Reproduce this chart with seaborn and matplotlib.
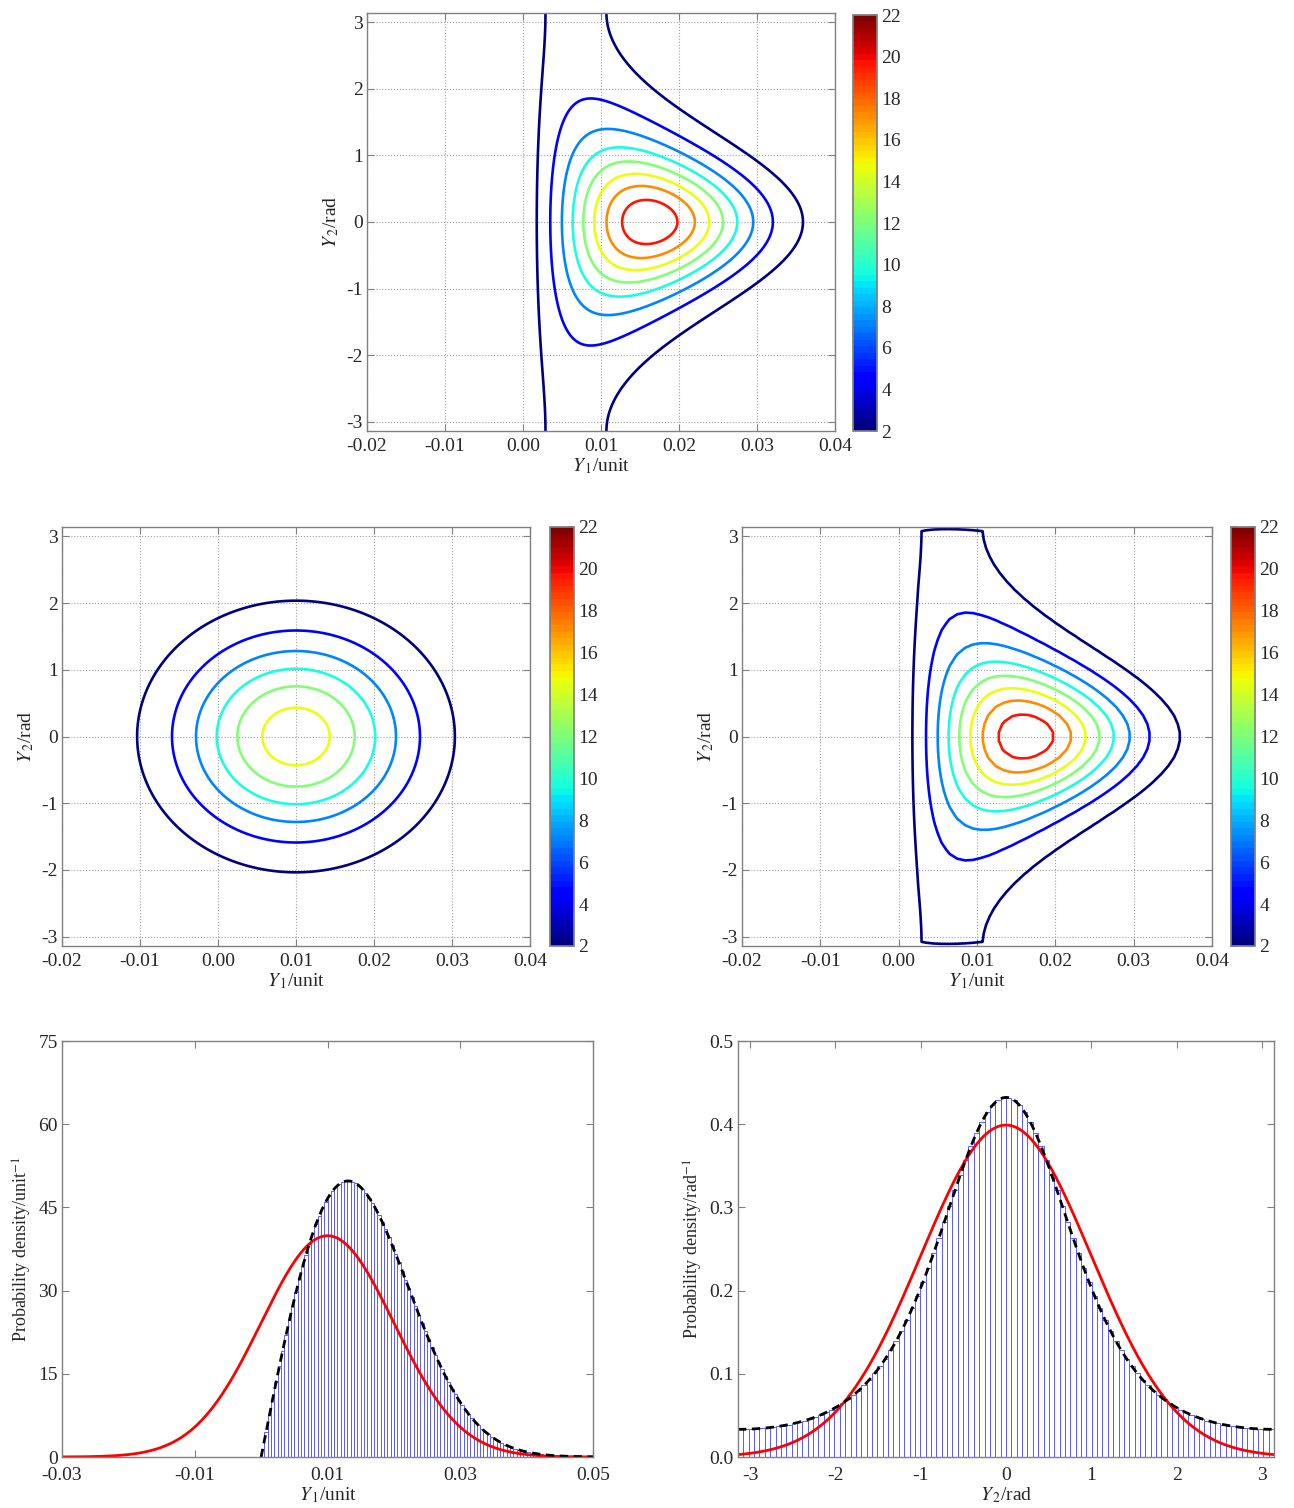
import math
import numpy as np
import pandas as pd
import matplotlib
matplotlib.use('Agg')
import matplotlib.pyplot as plt
import matplotlib.colors as mcolors
import seaborn as sns

# Source point in the plane: Gaussian with this mean offset and spread
# (read off the marginals: red peaks 39.9 and 0.399, black peaks ~49.8 and ~0.43)
src_mean = 0.01
src_std = 0.01
y2_mean = 0.0
y2_std = 1.0

contour_levels = [2.0, 4.5, 7.0, 9.5, 12.0, 14.5, 17.0, 19.5]
cbar_ticks = [2, 4, 6, 8, 10, 12, 14, 16, 18, 20, 22]
cbar_range = (2, 22)

y1_ticks_contour = [-0.02, -0.01, 0.00, 0.01, 0.02, 0.03, 0.04]
y2_ticks = [-3, -2, -1, 0, 1, 2, 3]
y1_ticks_hist = [-0.03, -0.01, 0.01, 0.03, 0.05]
pdf1_ticks = [0, 15, 30, 45, 60, 75]
pdf2_ticks = [0.0, 0.1, 0.2, 0.3, 0.4, 0.5]

hist1_bins = 100     # over [0, 0.05]
hist2_bins = 100     # over [-pi, pi]
mc_y1_bins = 50      # 2-D histogram grid for the sampled density
mc_y2_bins = 50

sns.set_theme(style='white')
plt.rcParams['font.family'] = ['Liberation Serif', 'DejaVu Serif']
plt.rcParams['mathtext.fontset'] = 'stix'
plt.rcParams['axes.unicode_minus'] = False
plt.rcParams['xtick.direction'] = 'in'
plt.rcParams['ytick.direction'] = 'in'
plt.rcParams['font.size'] = 14

AX_GRAY = '#808080'
TICK_SIZE = 14
cmap = plt.get_cmap('jet', 64)
norm = mcolors.Normalize(vmin=cbar_range[0], vmax=cbar_range[1])


def polar_density(r, t):
    r = np.asarray(r, dtype=float)
    d = r / (2 * np.pi * src_std ** 2) * np.exp(
        -(r ** 2 - 2 * r * src_mean * np.cos(t) + src_mean ** 2) / (2 * src_std ** 2))
    return np.where(r > 0, d, 0.0)


def gauss(x, m, s):
    return np.exp(-0.5 * ((x - m) / s) ** 2) / (s * np.sqrt(2 * np.pi))


def rice_pdf(r):
    r = np.asarray(r, dtype=float)
    v = r / src_std ** 2 * np.exp(-(r ** 2 + src_mean ** 2) / (2 * src_std ** 2)) \
        * np.i0(r * src_mean / src_std ** 2)
    return np.where(r >= 0, v, 0.0)


_erf = np.frompyfunc(math.erf, 1, 1)


def angle_pdf(t):
    k = src_mean / src_std
    a = k * np.cos(t)
    Phi = 0.5 * (1 + _erf(a / np.sqrt(2)).astype(float))
    phi = np.exp(-a ** 2 / 2) / np.sqrt(2 * np.pi)
    return np.exp(-k ** 2 / 2) / (2 * np.pi) * (1 + a * Phi / phi)


W, H = 1294, 1508
fig = plt.figure(figsize=(W / 100, H / 100), dpi=100)


def px_axes(left, top, right, bottom):
    return fig.add_axes([left / W, (H - bottom) / H, (right - left) / W, (bottom - top) / H])


def style_axes(ax, grid):
    for sp in ax.spines.values():
        sp.set_color(AX_GRAY)
        sp.set_linewidth(1.0)
    ax.tick_params(axis='both', which='both', direction='in', length=5, width=0.8,
                   color=AX_GRAY, top=True, right=True, bottom=True, left=True,
                   labelsize=TICK_SIZE)
    ax.tick_params(axis='x', pad=5)
    ax.tick_params(axis='y', pad=3)
    if grid:
        ax.grid(True, linestyle=':', color='#a0a0a0', linewidth=0.8)
        ax.set_axisbelow(True)


def contour_panel(box, cbox, X, Y, Z):
    ax = px_axes(*box)
    ax.contour(X, Y, Z, levels=contour_levels, cmap=cmap, norm=norm, linewidths=1.9)
    ax.set_xlim(-0.02, 0.04)
    ax.set_ylim(-np.pi, np.pi)
    ax.set_xticks(y1_ticks_contour)
    ax.set_xticklabels([f'{v:.2f}' for v in y1_ticks_contour])
    ax.set_yticks(y2_ticks)
    ax.set_xlabel(r'$Y_{\,1}$/unit', fontsize=14, labelpad=1)
    ax.set_ylabel(r'$Y_{\,2}$/rad', fontsize=14, labelpad=4)
    style_axes(ax, True)
    cax = px_axes(*cbox)
    sm = plt.cm.ScalarMappable(norm=norm, cmap=cmap)
    cb = fig.colorbar(sm, cax=cax, ticks=cbar_ticks)
    cb.outline.set_edgecolor(AX_GRAY)
    cax.tick_params(direction='in', length=4, color=AX_GRAY, left=True, right=True,
                    labelsize=TICK_SIZE, pad=3)
    return ax


def hist_panel(ax, lo, hi, nbins, pdf):
    edges = np.linspace(lo, hi, nbins + 1)
    centers = 0.5 * (edges[:-1] + edges[1:])
    df = pd.DataFrame({'y': centers, 'w': pdf(centers)})
    sns.histplot(data=df, x='y', weights='w', bins=nbins, binrange=(lo, hi),
                 stat='count', element='bars', fill=True, color='white',
                 edgecolor='#5c5cff', linewidth=0.7, alpha=1, ax=ax)


# top: exact density of the transformed variables
g1 = np.linspace(-0.02, 0.04, 601)
g2 = np.linspace(-np.pi, np.pi, 601)
G1, G2 = np.meshgrid(g1, g2)
contour_panel((367, 13, 835, 431), (853, 15, 877, 431), G1, G2, polar_density(G1, G2))

# middle left: independent Gaussian approximation
Zg = gauss(G1, src_mean, src_std) * gauss(G2, y2_mean, y2_std)
contour_panel((62, 527, 530, 946), (550, 527, 574, 946), G1, G2, Zg)

# middle right: density estimated on a coarse 2-D histogram grid
e1 = np.linspace(0, 0.05, mc_y1_bins + 1)
e2 = np.linspace(-np.pi, np.pi, mc_y2_bins + 1)
c1 = 0.5 * (e1[:-1] + e1[1:])
c2 = 0.5 * (e2[:-1] + e2[1:])
w2 = e2[1] - e2[0]
c2p = np.concatenate([[c2[0] - w2], c2, [c2[-1] + w2]])
C1, C2 = np.meshgrid(c1, c2p)
Zh = polar_density(C1, C2)
Zh[0, :] = 0
Zh[-1, :] = 0
contour_panel((742, 527, 1212, 946), (1231, 527, 1255, 946), C1, C2, Zh)

# bottom left: marginal of Y1
ax = px_axes(62, 1041, 593, 1457)
hist_panel(ax, 0.0, 0.05, hist1_bins, rice_pdf)
x1 = np.linspace(-0.03, 0.05, 801)
sns.lineplot(x=x1, y=gauss(x1, src_mean, src_std), color='red', linewidth=2.0, ax=ax)
xr = np.linspace(0, 0.05, 501)
sns.lineplot(x=xr, y=rice_pdf(xr), color='black', linewidth=2.0, linestyle=(0, (3, 2)), ax=ax)
ax.set_xlim(-0.03, 0.05)
ax.set_ylim(0, 75)
ax.set_xticks(y1_ticks_hist)
ax.set_xticklabels(['-0.03', '-0.01', '0.01', '0.03', '0.05'])
ax.set_yticks(pdf1_ticks)
ax.set_xlabel(r'$Y_{\,1}$/unit', fontsize=14, labelpad=1)
ax.set_ylabel(r'Probability density/unit$^{-1}$', fontsize=13, labelpad=3)
style_axes(ax, False)
ax.tick_params(axis='x', pad=7)

# bottom right: marginal of Y2
ax = px_axes(738, 1041, 1274, 1457)
hist_panel(ax, -np.pi, np.pi, hist2_bins, angle_pdf)
x2 = np.linspace(-np.pi, np.pi, 801)
sns.lineplot(x=x2, y=gauss(x2, y2_mean, y2_std), color='red', linewidth=2.0, ax=ax)
sns.lineplot(x=x2, y=angle_pdf(x2), color='black', linewidth=2.0, linestyle=(0, (3, 2)), ax=ax)
ax.set_xlim(-np.pi, np.pi)
ax.set_ylim(0, 0.5)
ax.set_xticks(y2_ticks)
ax.set_yticks(pdf2_ticks)
ax.set_yticklabels([f'{v:.1f}' for v in pdf2_ticks])
ax.set_xlabel(r'$Y_{\,2}$/rad', fontsize=14, labelpad=1)
ax.set_ylabel(r'Probability density/rad$^{-1}$', fontsize=13, labelpad=3)
style_axes(ax, False)
ax.tick_params(axis='x', pad=7)

fig.savefig('out.png', dpi=100)
